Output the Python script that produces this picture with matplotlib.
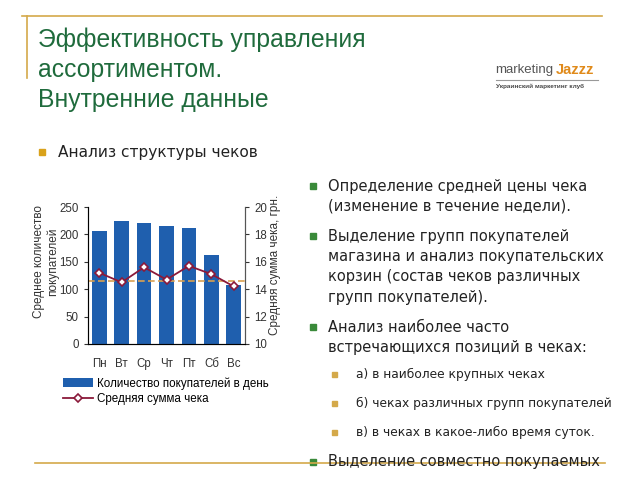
import matplotlib.pyplot as plt
from matplotlib.patches import Rectangle
from matplotlib.lines import Line2D

plt.rcParams['font.family'] = ['Liberation Sans', 'DejaVu Sans']

days = ["Пн", "Вт", "Ср", "Чт", "Пт", "Сб", "Вс"]
buyers = [207, 224, 221, 215, 211, 162, 107]
avg_check = [15.2, 14.5, 15.6, 14.7, 15.7, 15.1, 14.2]
avg_level = 14.6

title_lines = "Эффективность управления\nассортиментом.\nВнутренние данные"
right_items = [
    ("main", ["Определение средней цены чека", "(изменение в течение недели)."]),
    ("main", ["Выделение групп покупателей", "магазина и анализ покупательских",
              "корзин (состав чеков различных", "групп покупателей)."]),
    ("main", ["Анализ наиболее часто", "встречающихся позиций в чеках:"]),
    ("sub", ["а) в наиболее крупных чеках"]),
    ("sub", ["б) чеках различных групп покупателей"]),
    ("sub", ["в) в чеках в какое-либо время суток."]),
    ("main", ["Выделение совместно покупаемых"]),
]

W, H = 640, 480
fig = plt.figure(figsize=(6.4, 4.8), dpi=100)

def fx(x):
    return x / W

def fy(y):
    return 1 - y / H

green = "#1f6b3c"
gold = "#d4a94a"
text_col = "#222222"
body_font = ['DejaVu Sans']

# decorative lines
fig.add_artist(Line2D([fx(22), fx(602)], [fy(16), fy(16)], color=gold, lw=1.2))
fig.add_artist(Line2D([fx(27), fx(27)], [fy(16), fy(78)], color=gold, lw=1.2))
fig.add_artist(Line2D([fx(35), fx(605)], [fy(463), fy(463)], color=gold, lw=1.2))

fig.text(fx(38), fy(28), title_lines, color=green, fontsize=17.8, va="top", ha="left",
         linespacing=1.3)

# logo
fig.text(fx(495), fy(70), "marketing", color="#555555", fontsize=9.5, va="center",
         ha="left")
fig.text(fx(556), fy(70), "Jazzz", color="#e08a1a", fontsize=10.5, fontweight="bold",
         va="center", ha="left")
fig.add_artist(Line2D([fx(496), fx(598)], [fy(80), fy(80)], color="#999999", lw=0.8))
fig.text(fx(496), fy(86), "Украинский маркетинг клуб", color="#444444", fontsize=4.6,
         fontweight="bold", va="center", ha="left")

# left bullet
fig.add_artist(Rectangle((fx(39), fy(155)), fx(6), 6 / H, color="#d9a21b"))
fig.text(fx(58), fy(152), "Анализ структуры чеков", color=text_col, fontsize=11.05,
         va="center", ha="left", family=body_font)

# right bullets
y = 186
for kind, lines in right_items:
    if kind == "main":
        fig.add_artist(Rectangle((fx(310), fy(y + 3)), fx(6), 6 / H, color="#3a8a3a"))
        for i, ln in enumerate(lines):
            fig.text(fx(328), fy(y + 20.3 * i), ln, color=text_col, fontsize=10.5,
                     va="center", ha="left", family=body_font)
        y += 20.3 * (len(lines) - 1) + 30
    else:
        fig.add_artist(Rectangle((fx(332), fy(y + 2.5)), fx(5), 5 / H, color="#d4a94a"))
        fig.text(fx(356), fy(y), lines[0], color=text_col, fontsize=8.8, va="center",
                 ha="left", family=body_font)
        y += 29
    if lines[0].startswith("Анализ"):
        y -= 3

# chart
ax = fig.add_axes([fx(88), fy(344), fx(245 - 88), (344 - 207) / H])
x = range(len(days))
bars = ax.bar(x, buyers, width=0.65, color="#1f5fae", zorder=2)
ax.set_xlim(-0.5, 6.5)
ax.set_ylim(0, 250)
ax.set_yticks([0, 50, 100, 150, 200, 250])
ax.set_xticks(list(x))
ax.set_xticklabels(days)
ax.set_ylabel("Среднее количество\nпокупателей", fontsize=8.5, color="#333333")
ax.yaxis.set_label_coords(-0.185, 0.6)
ax.spines["top"].set_visible(False)
for s in ["left", "right", "bottom"]:
    ax.spines[s].set_color("#555555")
ax.tick_params(axis="both", labelsize=8.3, colors="#333333", length=3)
ax.tick_params(axis="x", length=0, pad=10)

ax2 = ax.twinx()
ax2.set_ylim(10, 20)
ax2.set_yticks([10, 12, 14, 16, 18, 20])
ax2.spines["top"].set_visible(False)
ax2.spines["right"].set_color("#555555")
ax2.tick_params(axis="y", labelsize=8.3, colors="#333333", length=3)
ax2.axhline(avg_level, color="#d9a050", lw=1.2, ls=(0, (4, 2)), zorder=1)
line, = ax2.plot(x, avg_check, color="#8b1a3a", lw=1.3, marker="D", markersize=4.5,
                 markerfacecolor="white", markeredgecolor="#8b1a3a", markeredgewidth=1.2)
ax2.set_ylabel("Средняя сумма чека, грн.", fontsize=8.5, color="#333333")
ax2.yaxis.set_label_coords(1.153, 0.58)

fig.legend([bars, line], ["Количество покупателей в день", "Средняя сумма чека"],
           loc="upper left", bbox_to_anchor=(fx(63), fy(377)), frameon=False,
           fontsize=8.4, handlelength=2.6, handletextpad=0.3, labelspacing=0.3,
           borderaxespad=0, borderpad=0)

fig.savefig("out.png", dpi=100)
